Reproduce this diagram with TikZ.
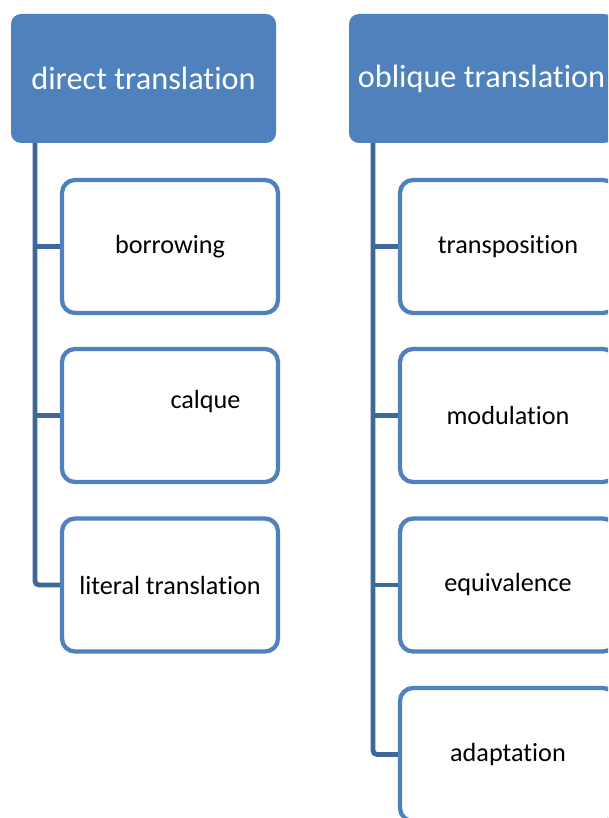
\documentclass[tikz,border=0pt]{standalone}
\usepackage{fontspec}
\setmainfont[Ligatures={NoCommon}]{Carlito}
\definecolor{headblue}{RGB}{79,129,189}
\definecolor{linkblue}{RGB}{62,104,154}
\tikzset{
  head/.style={fill=headblue, rounded corners=10pt, minimum width=265pt, minimum height=129pt,
    inner sep=0pt, text=white, font=\fontsize{32.3}{38}\selectfont},
  item/.style={draw=headblue, fill=white, line width=4.3pt, rounded corners=13pt,
    minimum width=216pt, minimum height=133pt, inner sep=0pt,
    font=\fontsize{26.2}{30}\selectfont},
  itemtext/.style={inner sep=0pt, font=\fontsize{26.2}{30}\selectfont},
  link/.style={draw=linkblue, line width=4.8pt, rounded corners=4pt},
  stub/.style={draw=linkblue, line width=4.8pt},
}
\begin{document}
\begin{tikzpicture}[x=1pt,y=-1pt]
  \useasboundingbox (0,0) rectangle (608,818);
  \clip (0,0) rectangle (608,818);
  \fill[white] (0,0) rectangle (608,818);

  % group headers
  \node[head] (direct) at (143.5,78.5) {direct translation};
  \node[head] (oblique) at (481.5,78.5) {oblique translation};

  % direct translation procedures
  \node[item] (borrow) at (170,246.5) {borrowing};
  \node[item] (calque) at (170,415.5) {};
  \node[itemtext] (calquetxt) at (205.5,402) {calque};
  \node[item] (literal) at (170,585) {literal translation};

  % oblique translation procedures
  \node[item] (transp) at (508,246.5) {transposition};
  \node[item] (modul) at (508,415.5) {modulation};
  \node[item] (equiv) at (508,585) {equivalence};
  \node[item] (adapt) at (508,754.5) {adaptation};

  % tree connectors, left column
  \coordinate (dtrunk) at (35,0);
  \draw[link] (direct.south -| dtrunk) -- (literal.west -| dtrunk) -- (literal.west);
  \draw[stub] (borrow.west -| dtrunk) -- (borrow.west);
  \draw[stub] (calque.west -| dtrunk) -- (calque.west);

  % tree connectors, right column
  \coordinate (otrunk) at (373,0);
  \draw[link] (oblique.south -| otrunk) -- (adapt.west -| otrunk) -- (adapt.west);
  \draw[stub] (transp.west -| otrunk) -- (transp.west);
  \draw[stub] (modul.west -| otrunk) -- (modul.west);
  \draw[stub] (equiv.west -| otrunk) -- (equiv.west);
\end{tikzpicture}
\end{document}
